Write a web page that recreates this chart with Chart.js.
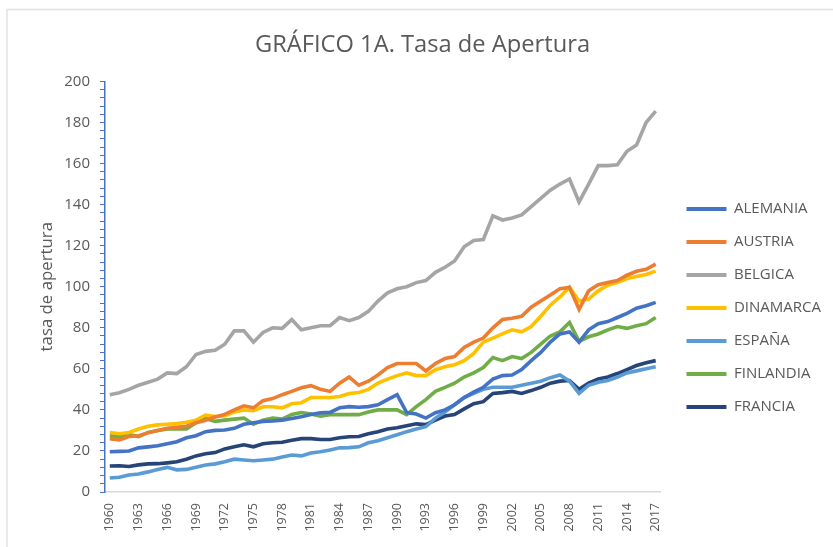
<!DOCTYPE html>
<html>
<head>
<meta charset="utf-8">
<script src="https://cdn.jsdelivr.net/npm/chart.js@4.4.1/dist/chart.umd.min.js"></script>
<style>
  html, body { margin: 0; padding: 0; background: #fff; }
  canvas { display: block; }
</style>
</head>
<body>
<canvas id="chart" width="833" height="547"></canvas>
<script>
// años 1960-2017
const years = [];
for (let y = 1960; y <= 2017; y++) years.push(String(y));

const alemania = [19.6,19.8,20,21.5,22,22.5,23.5,24.5,26.4,27.4,29.4,30,30.2,31,33,33.7,34.4,34.6,35,35.8,
  36.7,37.7,38.6,38.8,41,41.6,41.3,41.6,42.5,45,47.4,38.7,38,36,38.6,40,42.5,46,48.7,51,
  55,56.7,57,59.6,64,68,73,77,78,73,79,82,83,85,87,89.5,90.7,92.4];
const austria = [26,25.4,27,27.4,28.8,30,31,31.5,32,33.7,35,36.5,37.8,40,42,41,44.5,45.5,47.4,49,
  50.8,51.8,50,49,53,56,52,54,57,60.6,62.6,62.6,62.6,59,62.6,65,66,70.4,73,75,
  80,84,84.6,85.6,90,93,96,99,99.6,89,98,101,102,103,105.6,107.5,108.5,111];
const belgica = [47.4,48.4,50,52,53.5,55,58,57.7,61,67,68.5,69,72,78.5,78.5,73,77.7,80,79.7,84,
  79,80,81,81,85,83.5,85,88,93,97,99,100,102,103,107,109.5,112.5,119.5,122.5,123,
  134.5,132.5,133.5,135,139,143,147,150,152.5,141.3,150,159,159,159.4,166,169,180,185.5];
const dinamarca = [29,28.4,29,30.7,32,32.7,33,33.3,34,35,37.5,36.8,37,39,40,39.6,41.5,41.5,41,43,
  43.5,46,46,46,46.5,48,48.5,50,53,55,56.7,58,56.7,56.7,59.6,61,62,64,67.5,73,
  75,77,79,78,80.6,85.6,91,95,99.8,93,94,98,100.7,102,104,105,106,107.6];
const espana = [6.8,7.2,8.3,8.8,9.8,11,12,10.8,11,12,13.2,13.7,14.7,16,15.6,15.2,15.6,16,17,18,
  17.6,19,19.6,20.5,21.5,21.6,22,24,25,26.4,27.9,29.4,30.7,31.8,36,39,42.5,46,48,50,
  51,51,51,52,53,54,55.7,57,54,48,52,53.5,54.3,56,58,59,60,61];
const finlandia = [27.4,27,28,27,29,30,30.7,30.7,30.7,33.7,35.8,34.4,35,35.5,36,33,35,36,35.5,37.8,
  38.7,38,37,37.7,37.7,37.7,37.7,39,40,40,40,37.7,41.6,45,49,51,53,56,58,60.6,
  65.5,64,66,65,68,72,76,78,82.6,73.4,75.6,77,79,80.6,79.7,81,82,85];
const francia = [12.7,12.8,12.4,13.2,13.7,13.8,14.2,14.7,16,17.6,18.6,19.2,21,22,23,22,23.5,24,24.2,25.2,
  26,26,25.6,25.6,26.4,26.9,27,28.4,29.4,30.7,31.3,32.3,33.2,32.8,35,37,37.7,40.5,43,44,
  48,48.4,49,48,49.4,51,53,54,54.3,50,53,55,56,57.7,59.6,61.6,63,64];

const countries = ['ALEMANIA', 'AUSTRIA', 'BELGICA', 'DINAMARCA', 'ESPAÑA', 'FINLANDIA', 'FRANCIA'];
const series = [alemania, austria, belgica, dinamarca, espana, finlandia, francia];
const colors = ['#4472C4', '#ED7D31', '#A5A5A5', '#FFC000', '#5B9BD5', '#70AD47', '#264478'];

const FONT = '"Open Sans", Lato, sans-serif';
const GREY = '#595959';

// marco claro de la figura
const frame = {
  id: 'frame',
  beforeDraw(chart) {
    const c = chart.ctx;
    c.save();
    c.fillStyle = '#fff';
    c.fillRect(0, 0, chart.width, chart.height);
    c.strokeStyle = '#e2e2e2';
    c.lineWidth = 1.5;
    c.beginPath();
    c.moveTo(7, chart.height);
    c.lineTo(7, 9.5);
    c.lineTo(chart.width, 9.5);
    c.stroke();
    c.restore();
  }
};

// leyenda un poco más abajo y a la derecha, título algo a la derecha (como en Excel)
const nudge = {
  id: 'nudge',
  afterLayout(chart) {
    const lg = chart.legend;
    lg.left += 8; lg.right += 8;
    lg.top += 19; lg.bottom += 19;
    const tb = chart.titleBlock;
    tb.left += 5; tb.right += 5;
  }
};

new Chart(document.getElementById('chart'), {
  type: 'line',
  data: {
    labels: years,
    datasets: countries.map((name, i) => ({
      label: name,
      data: series[i],
      borderColor: colors[i],
      backgroundColor: colors[i],
      borderWidth: 3.6,
      pointRadius: 0,
      tension: 0
    }))
  },
  options: {
    responsive: false,
    animation: false,
    devicePixelRatio: 1,
    layout: { padding: { top: 31, left: 12, right: 10, bottom: 0 } },
    plugins: {
      title: {
        display: true,
        text: 'GRÁFICO 1A. Tasa de Apertura',
        color: GREY,
        font: { family: FONT, size: 23.7, weight: 'normal' },
        padding: { top: 0, bottom: 22 }
      },
      legend: {
        position: 'right',
        labels: {
          color: GREY,
          font: { family: FONT, size: 15 },
          boxWidth: 40,
          boxHeight: 4,
          padding: 18,
          generateLabels(chart) {
            const items = Chart.defaults.plugins.legend.labels.generateLabels(chart);
            items.forEach(it => { it.lineWidth = 0; });
            return items;
          }
        }
      },
      tooltip: { enabled: false }
    },
    scales: {
      x: {
        offset: true,
        grid: { display: false, drawTicks: false },
        border: { color: '#d9d9d9', width: 1.5 },
        ticks: {
          autoSkip: false,
          maxRotation: 90,
          minRotation: 90,
          padding: 11,
          color: GREY,
          font: { family: FONT, size: 12.5 },
          callback(v, i) { return i % 3 === 0 ? years[i] : ''; }
        },
        afterFit(scale) { scale.height = 55; }
      },
      y: {
        min: 0,
        max: 200,
        grid: { drawOnChartArea: false, color: '#4472C4', tickLength: 5, tickWidth: 1 },
        border: { color: '#4472C4', width: 1.5 },
        ticks: {
          stepSize: 4,
          autoSkip: false,
          padding: 10,
          color: GREY,
          font: { family: FONT, size: 15 },
          callback(v) { return v % 20 === 0 ? v : ''; }
        },
        title: {
          display: true,
          text: 'tasa de apertura',
          color: GREY,
          font: { family: FONT, size: 16.8 },
          padding: { top: 25, bottom: 0 }
        },
        afterFit(scale) { scale.width = 93; }
      }
    }
  },
  plugins: [frame, nudge]
});
</script>
</body>
</html>
